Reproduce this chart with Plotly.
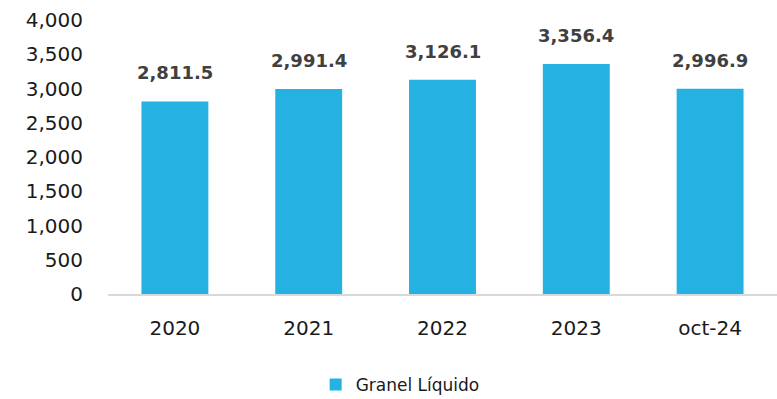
import plotly.graph_objects as go

categories = ["2020", "2021", "2022", "2023", "oct-24"]
granel_liquido = [2811.5, 2991.4, 3126.1, 3356.4, 2996.9]
y_ticks = [0, 500, 1000, 1500, 2000, 2500, 3000, 3500, 4000]

BAR_COLOR = "#25B1E1"
FONT = "DejaVu Sans"

fig = go.Figure()
fig.add_trace(go.Bar(
    x=categories,
    y=granel_liquido,
    name="Granel Líquido",
    marker=dict(color=BAR_COLOR, line=dict(width=0)),
))

# value labels above each bar (category index positions)
for i, val in enumerate(granel_liquido):
    fig.add_annotation(
        x=i, y=val, text=f"<b>{val:,.1f}</b>",
        showarrow=False, yanchor="bottom", yshift=16,
        font=dict(family=FONT, size=18, color="#404040"),
    )

fig.update_layout(
    width=777, height=399,
    margin=dict(l=108, r=0, t=20, b=105),
    paper_bgcolor="white", plot_bgcolor="white",
    bargap=0.5,
    font=dict(family=FONT, color="#1a1a1a"),
    showlegend=True,
    legend=dict(
        orientation="h", xref="container", x=0.515, xanchor="center",
        yref="container", y=0.035, yanchor="middle",
        font=dict(family=FONT, size=17, color="#1a1a1a"),
        itemwidth=30,
    ),
    xaxis=dict(
        type="category", range=[-0.5, len(categories) - 0.5],
        showgrid=False, showline=True, linecolor="#d9d9d9", linewidth=2,
        ticks="", tickfont=dict(family=FONT, size=20, color="#1a1a1a"),
        ticklabelstandoff=15,
    ),
    yaxis=dict(
        range=[0, 4000], tickvals=y_ticks, tickformat=",",
        showgrid=False, zeroline=False, showline=False, ticks="",
        tickfont=dict(family=FONT, size=20, color="#1a1a1a"),
        ticklabelstandoff=24,
    ),
)

fig.write_html("out.html")
